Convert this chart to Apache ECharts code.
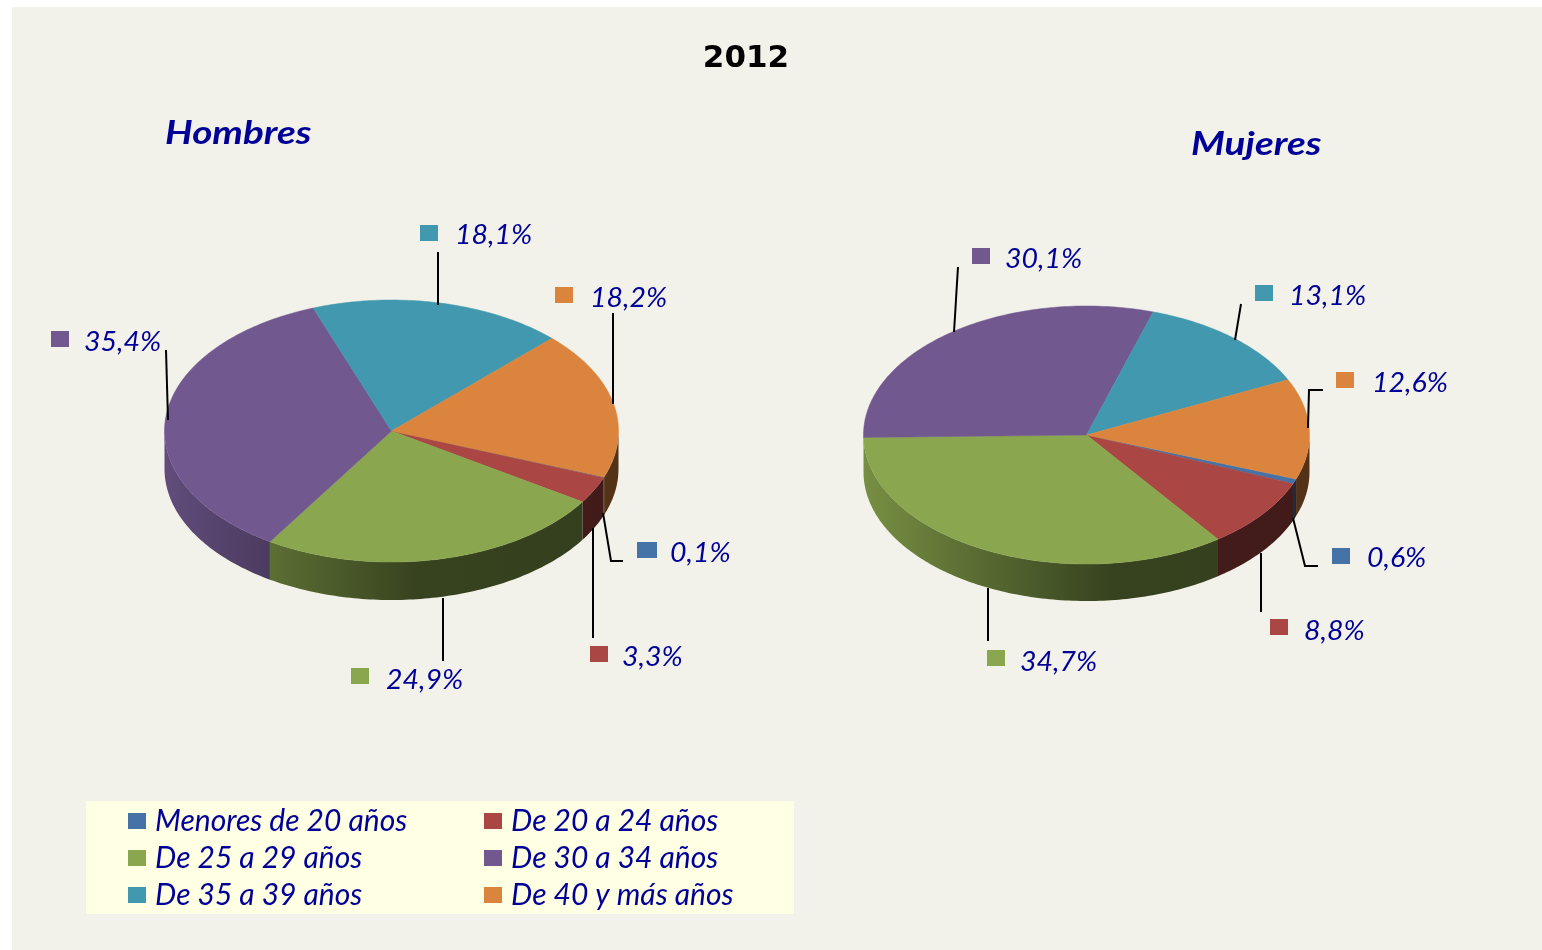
<!DOCTYPE html>
<html>
<head>
<meta charset="utf-8">
<script src="https://cdn.jsdelivr.net/npm/echarts@6/dist/echarts.min.js"></script>
<style>
  html, body { margin: 0; padding: 0; background: #fff; }
  #chart { width: 1542px; height: 950px; }
</style>
</head>
<body>
<div id="chart"></div>
<script>
// values, same order in all arrays
const categories = ['Menores de 20 años', 'De 20 a 24 años', 'De 25 a 29 años', 'De 30 a 34 años', 'De 35 a 39 años', 'De 40 y más años'];
const hombres = [0.1, 3.3, 24.9, 35.4, 18.1, 18.2];
const mujeres = [0.6, 8.8, 34.7, 30.1, 13.1, 12.6];

const colors = ['#4572A7', '#AA4643', '#8AA64E', '#71588F', '#4198AF', '#DB843D'];
const BLUE_TEXT = '#000099';
const LABEL_FONT = 'Lato';

// pie geometry, one entry per pie
const pies = [
  { values: hombres, cx: 391.5, cy: 431, rx: 227, ry: 131, depth: 38, start: 20.5 },
  { values: mujeres, cx: 1086.5, cy: 435, rx: 223, ry: 129, depth: 37, start: 20 }
];

// label furniture per pie and category: marker corner, text anchor, leader line
const hombresLabels = [
  { box: [637, 542, 20, 16], text: [670, 553], line: [[623, 561], [611, 561], [603, 513]] },
  { box: [590, 646, 18, 16], text: [622, 657], line: [[593, 528], [593, 638]] },
  { box: [351, 668, 18, 16], text: [386, 680], line: [[443, 598], [443, 661]] },
  { box: [51, 331, 18, 16], text: [84, 342], line: [[166, 350], [168, 420]] },
  { box: [420, 225, 18, 16], text: [455, 235], line: [[438, 252], [438, 305]] },
  { box: [555, 287, 18, 16], text: [590, 298], line: [[613, 313], [613, 404]] }
];
const mujeresLabels = [
  { box: [1332, 548, 18, 16], text: [1367, 558], line: [[1318, 566], [1305, 566], [1293, 518]] },
  { box: [1270, 619, 18, 16], text: [1304, 631], line: [[1261, 553], [1261, 612]] },
  { box: [987, 650, 18, 16], text: [1020, 662], line: [[988, 588], [988, 641]] },
  { box: [972, 248, 18, 16], text: [1005, 259], line: [[958, 267], [954, 332]] },
  { box: [1255, 285, 18, 16], text: [1289, 296], line: [[1241, 304], [1235, 340]] },
  { box: [1336, 372, 18, 16], text: [1372, 383], line: [[1323, 390], [1309, 390], [1308, 428]] }
];
const labelSets = [hombresLabels, mujeresLabels];

function shade(hex, f) {
  const n = parseInt(hex.slice(1), 16);
  const c = [n >> 16, (n >> 8) & 255, n & 255].map(v => Math.round(v * f));
  return 'rgb(' + c.join(',') + ')';
}

function arc(pie, a0, a1, dy) {
  const pts = [];
  const steps = Math.max(2, Math.ceil(a1 - a0));
  for (let i = 0; i <= steps; i++) {
    const a = (a0 + (a1 - a0) * i / steps) * Math.PI / 180;
    pts.push([pie.cx + pie.rx * Math.cos(a), pie.cy + dy + pie.ry * Math.sin(a)]);
  }
  return pts;
}

// angle range of a slice, clockwise from east on the squashed circle
function sliceAngles(pie, idx) {
  const total = pie.values.reduce((s, v) => s + v, 0);
  const before = pie.values.slice(0, idx).reduce((s, v) => s + v, 0);
  return [pie.start + before / total * 360, pie.start + (before + pie.values[idx]) / total * 360];
}

function renderSlice(params, api) {
  const pieIdx = api.value(0);
  const value = api.value(1);
  const pie = pies[pieIdx];
  const cat = params.seriesIndex;
  const color = colors[cat];
  const lab = labelSets[pieIdx][cat];
  const [a0, a1] = sliceAngles(pie, cat);
  const children = [];

  // side wall only shows on the front half, the last slice wraps past 360
  [0, 360].forEach(off => {
    const w0 = Math.max(a0, off), w1 = Math.min(a1, off + 180);
    if (w1 <= w0) return;
    const pts = arc(pie, w0, w1, 0).concat(arc(pie, w0, w1, pie.depth).reverse());
    const fill = new echarts.graphic.LinearGradient(pie.cx - pie.rx, 0, pie.cx + pie.rx, 0, [
      { offset: 0, color: shade(color, 0.86) },
      { offset: 0.23, color: shade(color, 0.67) },
      { offset: 0.56, color: shade(color, 0.4) },
      { offset: 1, color: shade(color, 0.38) }
    ], true);
    children.push({ type: 'polygon', shape: { points: pts }, style: { fill: fill } });
  });

  const top = [[pie.cx, pie.cy]].concat(arc(pie, a0, a1, 0));
  children.push({ type: 'polygon', shape: { points: top }, style: { fill: color, stroke: color, lineWidth: 0.5 } });

  children.push({ type: 'polyline', shape: { points: lab.line }, style: { fill: null, stroke: '#000', lineWidth: 2 }, z2: 5 });
  children.push({ type: 'rect', shape: { x: lab.box[0], y: lab.box[1], width: lab.box[2], height: lab.box[3] }, style: { fill: color } });
  children.push({
    type: 'text',
    x: lab.text[0],
    y: lab.text[1],
    scaleX: 1.055,
    style: {
      text: value.toFixed(1).replace('.', ',') + '%',
      fill: BLUE_TEXT,
      font: 'italic 27px "' + LABEL_FONT + '"',
      verticalAlign: 'middle'
    }
  });
  return { type: 'group', children: children };
}

const chart = echarts.init(document.getElementById('chart'), null, { renderer: 'canvas' });

const legendText = { color: BLUE_TEXT, fontFamily: LABEL_FONT, fontStyle: 'italic', fontSize: 30, lineHeight: 30, padding: [0, 0, 0, 4] };

function pieTitle(text, x, y) {
  return {
    type: 'text', silent: true, x: x, y: y, scaleX: 1.17,
    style: { text: text, fill: BLUE_TEXT, font: 'italic bold 33px "' + LABEL_FONT + '"', verticalAlign: 'middle' }
  };
}

chart.setOption({
  animation: false,
  backgroundColor: '#fff',
  title: { text: '2012', left: 746, top: 43, padding: 0, textAlign: 'center', textStyle: { fontFamily: 'DejaVu Sans', fontWeight: 'bold', fontSize: 31, color: '#000' } },
  legend: [
    {
      data: [categories[0], categories[2], categories[4]],
      orient: 'vertical', left: 128, top: 806, padding: 0, icon: 'rect',
      itemWidth: 18, itemHeight: 16, itemGap: 7, selectedMode: false, textStyle: legendText
    },
    {
      data: [categories[1], categories[3], categories[5]],
      orient: 'vertical', left: 484, top: 806, padding: 0, icon: 'rect',
      itemWidth: 18, itemHeight: 16, itemGap: 7, selectedMode: false, textStyle: legendText
    }
  ],
  graphic: [
    { type: 'rect', silent: true, z: -10, shape: { x: 12, y: 7, width: 1530, height: 943 }, style: { fill: '#F2F2EA' } },
    { type: 'rect', silent: true, z: -9, shape: { x: 86, y: 801, width: 708, height: 113 }, style: { fill: '#FFFFE3' } },
    pieTitle('Hombres', 165, 133),
    pieTitle('Mujeres', 1191, 144)
  ],
  series: categories.map((name, i) => ({
    name: name,
    type: 'custom',
    coordinateSystem: 'none',
    itemStyle: { color: colors[i] },
    renderItem: renderSlice,
    data: [[0, hombres[i]], [1, mujeres[i]]],
    silent: true
  }))
});
</script>
</body>
</html>
